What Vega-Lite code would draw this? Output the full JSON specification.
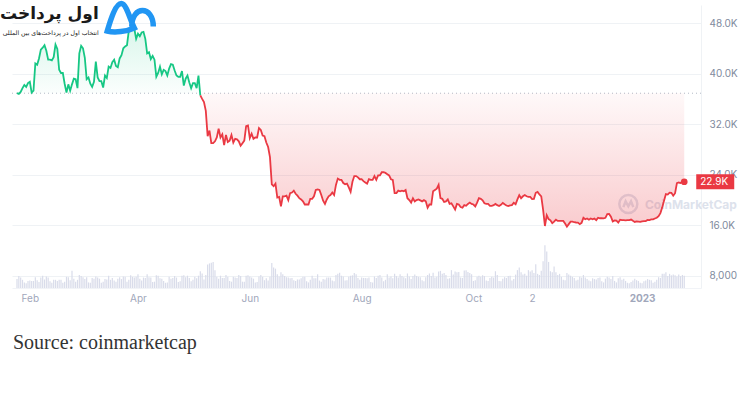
{
"$schema": "https://vega.github.io/schema/vega-lite/v6.json",
"width": 689, "height": 283,
"autosize": {"type": "none"},
"padding": {"left": 12, "top": 5, "right": 46, "bottom": 114},
"background": "white",
"config": {"view": {"stroke": null}, "font": "Inter"},
"title": {"text": "Source: coinmarketcap", "orient": "bottom", "anchor": "start", "frame": "group", "font": "Liberation Serif", "fontSize": 20, "fontWeight": "normal", "color": "#333333", "offset": 30, "dx": 1},
"datasets": {"btc": [
{"d":"2022-01-25","p":36900,"v":24},{"d":"2022-01-26","p":36800,"v":32},{"d":"2022-01-27","p":37100,"v":28},{"d":"2022-01-28","p":37700,"v":22},{"d":"2022-01-29","p":38200,"v":15},{"d":"2022-01-30","p":37900,"v":13},{"d":"2022-01-31","p":38500,"v":19},
{"d":"2022-02-01","p":38700,"v":20},{"d":"2022-02-02","p":37000,"v":19},{"d":"2022-02-03","p":37300,"v":19},{"d":"2022-02-04","p":41600,"v":29},{"d":"2022-02-05","p":41400,"v":21},{"d":"2022-02-06","p":42400,"v":16},{"d":"2022-02-07","p":43800,"v":28},{"d":"2022-02-08","p":44100,"v":33},{"d":"2022-02-09","p":44500,"v":23},{"d":"2022-02-10","p":43600,"v":31},{"d":"2022-02-11","p":42200,"v":28},{"d":"2022-02-12","p":42200,"v":18},{"d":"2022-02-13","p":42100,"v":14},{"d":"2022-02-14","p":42600,"v":22},{"d":"2022-02-15","p":44600,"v":22},{"d":"2022-02-16","p":43900,"v":19},{"d":"2022-02-17","p":40600,"v":22},{"d":"2022-02-18","p":40100,"v":22},{"d":"2022-02-19","p":40100,"v":14},{"d":"2022-02-20","p":38400,"v":17},{"d":"2022-02-21","p":37000,"v":30},{"d":"2022-02-22","p":38300,"v":29},{"d":"2022-02-23","p":37300,"v":21},{"d":"2022-02-24","p":38300,"v":46},{"d":"2022-02-25","p":39200,"v":25},{"d":"2022-02-26","p":39100,"v":17},{"d":"2022-02-27","p":37700,"v":22},{"d":"2022-02-28","p":43200,"v":35},
{"d":"2022-03-01","p":44400,"v":32},{"d":"2022-03-02","p":44000,"v":29},{"d":"2022-03-03","p":42500,"v":24},{"d":"2022-03-04","p":39100,"v":29},{"d":"2022-03-05","p":39400,"v":15},{"d":"2022-03-06","p":38400,"v":14},{"d":"2022-03-07","p":37900,"v":27},{"d":"2022-03-08","p":38700,"v":25},{"d":"2022-03-09","p":41900,"v":31},{"d":"2022-03-10","p":39400,"v":28},{"d":"2022-03-11","p":38800,"v":25},{"d":"2022-03-12","p":38800,"v":14},{"d":"2022-03-13","p":37800,"v":17},{"d":"2022-03-14","p":39700,"v":24},{"d":"2022-03-15","p":39300,"v":23},{"d":"2022-03-16","p":41100,"v":33},{"d":"2022-03-17","p":40900,"v":22},{"d":"2022-03-18","p":41800,"v":27},{"d":"2022-03-19","p":42200,"v":20},{"d":"2022-03-20","p":41200,"v":17},{"d":"2022-03-21","p":41000,"v":25},{"d":"2022-03-22","p":42400,"v":29},{"d":"2022-03-23","p":42900,"v":24},{"d":"2022-03-24","p":44000,"v":31},{"d":"2022-03-25","p":44300,"v":30},{"d":"2022-03-26","p":44500,"v":17},{"d":"2022-03-27","p":46800,"v":22},{"d":"2022-03-28","p":47100,"v":34},{"d":"2022-03-29","p":47500,"v":30},{"d":"2022-03-30","p":47100,"v":28},{"d":"2022-03-31","p":45500,"v":30},
{"d":"2022-04-01","p":46300,"v":37},{"d":"2022-04-02","p":45900,"v":25},{"d":"2022-04-03","p":46500,"v":20},{"d":"2022-04-04","p":46600,"v":28},{"d":"2022-04-05","p":45500,"v":27},{"d":"2022-04-06","p":43200,"v":37},{"d":"2022-04-07","p":43400,"v":29},{"d":"2022-04-08","p":42300,"v":28},{"d":"2022-04-09","p":42800,"v":16},{"d":"2022-04-10","p":42200,"v":17},{"d":"2022-04-11","p":39500,"v":34},{"d":"2022-04-12","p":40100,"v":33},{"d":"2022-04-13","p":41100,"v":26},{"d":"2022-04-14","p":39900,"v":25},{"d":"2022-04-15","p":40600,"v":19},{"d":"2022-04-16","p":40400,"v":14},{"d":"2022-04-17","p":39700,"v":15},{"d":"2022-04-18","p":40800,"v":30},{"d":"2022-04-19","p":41500,"v":25},{"d":"2022-04-20","p":41400,"v":27},{"d":"2022-04-21","p":40500,"v":32},{"d":"2022-04-22","p":39700,"v":28},{"d":"2022-04-23","p":39500,"v":16},{"d":"2022-04-24","p":39500,"v":18},{"d":"2022-04-25","p":40400,"v":33},{"d":"2022-04-26","p":38100,"v":34},{"d":"2022-04-27","p":39200,"v":29},{"d":"2022-04-28","p":39700,"v":33},{"d":"2022-04-29","p":38600,"v":27},{"d":"2022-04-30","p":37700,"v":18},
{"d":"2022-05-01","p":38500,"v":22},{"d":"2022-05-02","p":38500,"v":30},{"d":"2022-05-03","p":37700,"v":26},{"d":"2022-05-04","p":39700,"v":33},{"d":"2022-05-05","p":36550,"v":45},{"d":"2022-05-06","p":36000,"v":39},{"d":"2022-05-07","p":35500,"v":23},{"d":"2022-05-08","p":34100,"v":35},{"d":"2022-05-09","p":30100,"v":63},{"d":"2022-05-10","p":31000,"v":66},{"d":"2022-05-11","p":29000,"v":68},{"d":"2022-05-12","p":29000,"v":70},{"d":"2022-05-13","p":29300,"v":48},{"d":"2022-05-14","p":29900,"v":30},{"d":"2022-05-15","p":31300,"v":25},{"d":"2022-05-16","p":29900,"v":33},{"d":"2022-05-17","p":30400,"v":27},{"d":"2022-05-18","p":28700,"v":27},{"d":"2022-05-19","p":30300,"v":35},{"d":"2022-05-20","p":29200,"v":30},{"d":"2022-05-21","p":29400,"v":19},{"d":"2022-05-22","p":30300,"v":17},{"d":"2022-05-23","p":29100,"v":30},{"d":"2022-05-24","p":29700,"v":28},{"d":"2022-05-25","p":29600,"v":27},{"d":"2022-05-26","p":29300,"v":35},{"d":"2022-05-27","p":28600,"v":32},{"d":"2022-05-28","p":29000,"v":17},{"d":"2022-05-29","p":29400,"v":17},{"d":"2022-05-30","p":31700,"v":33},{"d":"2022-05-31","p":31800,"v":34},
{"d":"2022-06-01","p":29800,"v":31},{"d":"2022-06-02","p":30500,"v":28},{"d":"2022-06-03","p":29700,"v":25},{"d":"2022-06-04","p":29900,"v":15},{"d":"2022-06-05","p":29900,"v":16},{"d":"2022-06-06","p":31400,"v":31},{"d":"2022-06-07","p":31100,"v":35},{"d":"2022-06-08","p":30200,"v":30},{"d":"2022-06-09","p":30100,"v":21},{"d":"2022-06-10","p":29100,"v":26},{"d":"2022-06-11","p":28400,"v":20},{"d":"2022-06-12","p":26800,"v":30},{"d":"2022-06-13","p":22500,"v":67},{"d":"2022-06-14","p":22200,"v":55},{"d":"2022-06-15","p":22600,"v":52},{"d":"2022-06-16","p":20400,"v":37},{"d":"2022-06-17","p":20500,"v":31},{"d":"2022-06-18","p":19000,"v":42},{"d":"2022-06-19","p":20600,"v":37},{"d":"2022-06-20","p":20600,"v":32},{"d":"2022-06-21","p":20700,"v":29},{"d":"2022-06-22","p":20000,"v":28},{"d":"2022-06-23","p":21100,"v":26},{"d":"2022-06-24","p":21200,"v":27},{"d":"2022-06-25","p":21500,"v":21},{"d":"2022-06-26","p":21000,"v":19},{"d":"2022-06-27","p":20700,"v":23},{"d":"2022-06-28","p":20300,"v":23},{"d":"2022-06-29","p":20100,"v":26},{"d":"2022-06-30","p":19800,"v":30},
{"d":"2022-07-01","p":19300,"v":30},{"d":"2022-07-02","p":19300,"v":18},{"d":"2022-07-03","p":19300,"v":15},{"d":"2022-07-04","p":20200,"v":22},{"d":"2022-07-05","p":20200,"v":33},{"d":"2022-07-06","p":20600,"v":26},{"d":"2022-07-07","p":21600,"v":26},{"d":"2022-07-08","p":21700,"v":37},{"d":"2022-07-09","p":21600,"v":20},{"d":"2022-07-10","p":20800,"v":17},{"d":"2022-07-11","p":19900,"v":24},{"d":"2022-07-12","p":19400,"v":23},{"d":"2022-07-13","p":20100,"v":28},{"d":"2022-07-14","p":20600,"v":28},{"d":"2022-07-15","p":20800,"v":28},{"d":"2022-07-16","p":21200,"v":20},{"d":"2022-07-17","p":20800,"v":18},{"d":"2022-07-18","p":22400,"v":35},{"d":"2022-07-19","p":23400,"v":38},{"d":"2022-07-20","p":23200,"v":41},{"d":"2022-07-21","p":23200,"v":33},{"d":"2022-07-22","p":22700,"v":31},{"d":"2022-07-23","p":22500,"v":20},{"d":"2022-07-24","p":22600,"v":21},{"d":"2022-07-25","p":22000,"v":30},{"d":"2022-07-26","p":21300,"v":33},{"d":"2022-07-27","p":22900,"v":34},{"d":"2022-07-28","p":23800,"v":40},{"d":"2022-07-29","p":23800,"v":37},{"d":"2022-07-30","p":23600,"v":27},{"d":"2022-07-31","p":23300,"v":22},
{"d":"2022-08-01","p":23300,"v":28},{"d":"2022-08-02","p":23000,"v":27},{"d":"2022-08-03","p":22800,"v":27},{"d":"2022-08-04","p":22600,"v":26},{"d":"2022-08-05","p":23300,"v":28},{"d":"2022-08-06","p":23200,"v":16},{"d":"2022-08-07","p":23200,"v":15},{"d":"2022-08-08","p":23800,"v":31},{"d":"2022-08-09","p":23200,"v":27},{"d":"2022-08-10","p":23900,"v":33},{"d":"2022-08-11","p":23900,"v":35},{"d":"2022-08-12","p":24400,"v":28},{"d":"2022-08-13","p":24400,"v":18},{"d":"2022-08-14","p":24300,"v":22},{"d":"2022-08-15","p":24100,"v":37},{"d":"2022-08-16","p":23900,"v":28},{"d":"2022-08-17","p":23300,"v":31},{"d":"2022-08-18","p":23200,"v":26},{"d":"2022-08-19","p":21100,"v":38},{"d":"2022-08-20","p":21100,"v":32},{"d":"2022-08-21","p":21500,"v":28},{"d":"2022-08-22","p":21400,"v":37},{"d":"2022-08-23","p":21500,"v":32},{"d":"2022-08-24","p":21400,"v":29},{"d":"2022-08-25","p":21600,"v":26},{"d":"2022-08-26","p":20300,"v":39},{"d":"2022-08-27","p":20000,"v":31},{"d":"2022-08-28","p":19600,"v":24},{"d":"2022-08-29","p":20300,"v":32},{"d":"2022-08-30","p":19800,"v":36},{"d":"2022-08-31","p":20000,"v":32},
{"d":"2022-09-01","p":20100,"v":30},{"d":"2022-09-02","p":19950,"v":29},{"d":"2022-09-03","p":19800,"v":21},{"d":"2022-09-04","p":19990,"v":18},{"d":"2022-09-05","p":19800,"v":29},{"d":"2022-09-06","p":18800,"v":35},{"d":"2022-09-07","p":19300,"v":39},{"d":"2022-09-08","p":19300,"v":32},{"d":"2022-09-09","p":21400,"v":41},{"d":"2022-09-10","p":21600,"v":28},{"d":"2022-09-11","p":21800,"v":30},{"d":"2022-09-12","p":22400,"v":44},{"d":"2022-09-13","p":20300,"v":46},{"d":"2022-09-14","p":20200,"v":38},{"d":"2022-09-15","p":19700,"v":40},{"d":"2022-09-16","p":19800,"v":35},{"d":"2022-09-17","p":20100,"v":25},{"d":"2022-09-18","p":19400,"v":26},{"d":"2022-09-19","p":19500,"v":48},{"d":"2022-09-20","p":19000,"v":36},{"d":"2022-09-21","p":18500,"v":44},{"d":"2022-09-22","p":19400,"v":42},{"d":"2022-09-23","p":19300,"v":43},{"d":"2022-09-24","p":18900,"v":28},{"d":"2022-09-25","p":18800,"v":27},{"d":"2022-09-26","p":19200,"v":47},{"d":"2022-09-27","p":19100,"v":48},{"d":"2022-09-28","p":19400,"v":43},{"d":"2022-09-29","p":19600,"v":40},{"d":"2022-09-30","p":19400,"v":37},
{"d":"2022-10-01","p":19300,"v":19},{"d":"2022-10-02","p":19000,"v":21},{"d":"2022-10-03","p":19600,"v":30},{"d":"2022-10-04","p":20300,"v":33},{"d":"2022-10-05","p":20200,"v":30},{"d":"2022-10-06","p":19960,"v":34},{"d":"2022-10-07","p":19500,"v":32},{"d":"2022-10-08","p":19400,"v":20},{"d":"2022-10-09","p":19400,"v":19},{"d":"2022-10-10","p":19100,"v":27},{"d":"2022-10-11","p":19100,"v":30},{"d":"2022-10-12","p":19200,"v":28},{"d":"2022-10-13","p":19400,"v":45},{"d":"2022-10-14","p":19200,"v":35},{"d":"2022-10-15","p":19070,"v":19},{"d":"2022-10-16","p":19260,"v":18},{"d":"2022-10-17","p":19550,"v":25},{"d":"2022-10-18","p":19330,"v":29},{"d":"2022-10-19","p":19140,"v":27},{"d":"2022-10-20","p":19050,"v":32},{"d":"2022-10-21","p":19170,"v":33},{"d":"2022-10-22","p":19200,"v":20},{"d":"2022-10-23","p":19570,"v":24},{"d":"2022-10-24","p":19350,"v":36},{"d":"2022-10-25","p":20100,"v":48},{"d":"2022-10-26","p":20770,"v":55},{"d":"2022-10-27","p":20300,"v":42},{"d":"2022-10-28","p":20600,"v":36},{"d":"2022-10-29","p":20800,"v":38},{"d":"2022-10-30","p":20600,"v":33},{"d":"2022-10-31","p":20500,"v":48},
{"d":"2022-11-01","p":20500,"v":44},{"d":"2022-11-02","p":20160,"v":48},{"d":"2022-11-03","p":20200,"v":40},{"d":"2022-11-04","p":21150,"v":64},{"d":"2022-11-05","p":21300,"v":38},{"d":"2022-11-06","p":20900,"v":35},{"d":"2022-11-07","p":20600,"v":46},{"d":"2022-11-08","p":18500,"v":72},{"d":"2022-11-09","p":15900,"v":115},{"d":"2022-11-10","p":17600,"v":98},{"d":"2022-11-11","p":17000,"v":70},{"d":"2022-11-12","p":16800,"v":45},{"d":"2022-11-13","p":16350,"v":42},{"d":"2022-11-14","p":16600,"v":58},{"d":"2022-11-15","p":16900,"v":42},{"d":"2022-11-16","p":16700,"v":35},{"d":"2022-11-17","p":16700,"v":38},{"d":"2022-11-18","p":16700,"v":30},{"d":"2022-11-19","p":16700,"v":22},{"d":"2022-11-20","p":16300,"v":21},{"d":"2022-11-21","p":15800,"v":40},{"d":"2022-11-22","p":16200,"v":36},{"d":"2022-11-23","p":16600,"v":33},{"d":"2022-11-24","p":16600,"v":30},{"d":"2022-11-25","p":16500,"v":27},{"d":"2022-11-26","p":16460,"v":20},{"d":"2022-11-27","p":16440,"v":22},{"d":"2022-11-28","p":16200,"v":30},{"d":"2022-11-29","p":16400,"v":28},{"d":"2022-11-30","p":17200,"v":35},
{"d":"2022-12-01","p":16970,"v":28},{"d":"2022-12-02","p":17090,"v":24},{"d":"2022-12-03","p":16890,"v":20},{"d":"2022-12-04","p":17100,"v":18},{"d":"2022-12-05","p":16970,"v":26},{"d":"2022-12-06","p":17090,"v":24},{"d":"2022-12-07","p":16840,"v":23},{"d":"2022-12-08","p":17220,"v":27},{"d":"2022-12-09","p":17130,"v":28},{"d":"2022-12-10","p":17130,"v":18},{"d":"2022-12-11","p":17100,"v":15},{"d":"2022-12-12","p":17200,"v":25},{"d":"2022-12-13","p":17780,"v":30},{"d":"2022-12-14","p":17800,"v":28},{"d":"2022-12-15","p":17360,"v":24},{"d":"2022-12-16","p":16630,"v":32},{"d":"2022-12-17","p":16780,"v":19},{"d":"2022-12-18","p":16740,"v":15},{"d":"2022-12-19","p":16440,"v":26},{"d":"2022-12-20","p":16900,"v":29},{"d":"2022-12-21","p":16830,"v":22},{"d":"2022-12-22","p":16830,"v":25},{"d":"2022-12-23","p":16780,"v":19},{"d":"2022-12-24","p":16840,"v":14},{"d":"2022-12-25","p":16840,"v":13},{"d":"2022-12-26","p":16920,"v":16},{"d":"2022-12-27","p":16720,"v":20},{"d":"2022-12-28","p":16550,"v":25},{"d":"2022-12-29","p":16640,"v":21},{"d":"2022-12-30","p":16600,"v":19},{"d":"2022-12-31","p":16550,"v":14},
{"d":"2023-01-01","p":16630,"v":13},{"d":"2023-01-02","p":16690,"v":18},{"d":"2023-01-03","p":16680,"v":20},{"d":"2023-01-04","p":16850,"v":24},{"d":"2023-01-05","p":16830,"v":22},{"d":"2023-01-06","p":16950,"v":21},{"d":"2023-01-07","p":16950,"v":14},{"d":"2023-01-08","p":17090,"v":17},{"d":"2023-01-09","p":17200,"v":22},{"d":"2023-01-10","p":17450,"v":29},{"d":"2023-01-11","p":17940,"v":27},{"d":"2023-01-12","p":18850,"v":38},{"d":"2023-01-13","p":19930,"v":38},{"d":"2023-01-14","p":20950,"v":42},{"d":"2023-01-15","p":20870,"v":32},{"d":"2023-01-16","p":21170,"v":38},{"d":"2023-01-17","p":21160,"v":34},{"d":"2023-01-18","p":20690,"v":36},{"d":"2023-01-19","p":21090,"v":34},{"d":"2023-01-20","p":22680,"v":31},{"d":"2023-01-21","p":22780,"v":36},{"d":"2023-01-22","p":22700,"v":32},{"d":"2023-01-23","p":22930,"v":35},{"d":"2023-01-24","p":22900,"v":33}
]},
"data": {"name": "btc"},
"resolve": {"scale": {"y": "independent"}},
"layer": [
{"mark": {"type": "bar", "width": 1.2, "color": "#d9dcea"},
 "encoding": {
  "x": {"field": "d", "type": "temporal",
   "scale": {"type": "utc", "domain": [{"year": 2022, "month": 1, "date": 25, "utc": true}, {"year": 2023, "month": 1, "date": 30, "hours": 10, "utc": true}]},
   "axis": {"title": null, "orient": "bottom", "domain": true, "domainColor": "#f1f3f7", "ticks": false, "grid": false, "labelPadding": 5, "labelFont": "Inter", "labelFontSize": 10, "labelColor": "#a1a7bb",
    "values": [{"year": 2022, "month": 2, "date": 1, "utc": true}, {"year": 2022, "month": 4, "date": 1, "utc": true}, {"year": 2022, "month": 6, "date": 1, "utc": true}, {"year": 2022, "month": 8, "date": 1, "utc": true}, {"year": 2022, "month": 10, "date": 1, "utc": true}, {"year": 2022, "month": 11, "date": 2, "utc": true}, {"year": 2023, "month": 1, "date": 1, "utc": true}],
    "labelExpr": "utcmonth(datum.value) == 10 ? '2' : (utcmonth(datum.value) == 0 ? '2023' : utcFormat(datum.value, '%b'))",
    "labelFontWeight": {"condition": {"test": "utcmonth(datum.value) == 0", "value": "bold"}, "value": "normal"},
    "labelOverlap": false}},
  "y": {"field": "v", "type": "quantitative", "scale": {"domain": [0, 760]}, "axis": null}
 }},
{"layer": [
 {"data": {"values": [{}]},
  "mark": {"type": "text", "text": "CoinMarketCap", "font": "Inter", "fontSize": 12, "fontWeight": "bold", "color": "#dde2ec", "align": "left", "baseline": "middle"},
  "encoding": {"x": {"datum": {"year": 2023, "month": 1, "date": 2, "hours": 14, "utc": true}, "type": "temporal"}, "y": {"datum": 19225, "type": "quantitative"}}},
 {"data": {"values": [{}]},
  "mark": {"type": "point", "shape": "M-1,0 A1,1 0 1,0 1,0 A1,1 0 1,0 -1,0 Z M-0.55,0.35 L-0.3,-0.3 L0,0.25 L0.3,-0.3 L0.55,0.35", "size": 324, "filled": false, "stroke": "#dde2ec", "strokeWidth": 2.5, "opacity": 1},
  "encoding": {"x": {"datum": {"year": 2022, "month": 12, "date": 24, "hours": 12, "utc": true}, "type": "temporal"}, "y": {"datum": 19383, "type": "quantitative"}}},
 {"data": {"values": [{}]},
  "mark": {"type": "rule", "strokeDash": [1, 3], "color": "#b3bac7", "strokeWidth": 1},
  "encoding": {"y": {"datum": 36900, "type": "quantitative"}}},
 {"transform": [{"filter": "time(datum.d) <= utc(2022, 4, 5)"}],
  "mark": {"type": "area", "fill": {"gradient": "linear", "x1": 0, "y1": 0, "x2": 0, "y2": 1, "stops": [{"offset": 0, "color": "rgba(22,199,132,0.16)"}, {"offset": 1, "color": "rgba(22,199,132,0.01)"}]}},
  "encoding": {
   "x": {"field": "d", "type": "temporal"},
   "y": {"field": "p", "type": "quantitative", "scale": {"domain": [6100, 50850], "nice": false, "zero": false},
    "axis": {"title": null, "orient": "right", "grid": true, "gridColor": "#eff2f5", "domain": true, "domainColor": "#eff2f5", "ticks": false, "labelPadding": 8, "labelFont": "Inter", "labelFontSize": 10, "labelColor": "#808a9d",
     "values": [8000, 12000, 16000, 20000, 24000, 28000, 32000, 36000, 40000, 44000, 48000],
     "labelExpr": "datum.value >= 10000 ? format(datum.value / 1000, '.1f') + 'K' : format(datum.value, ',')"}},
   "y2": {"datum": 36900}
  }},
 {"transform": [{"filter": "time(datum.d) >= utc(2022, 4, 5)"}],
  "mark": {"type": "area", "fill": {"gradient": "linear", "x1": 0, "y1": 0, "x2": 0, "y2": 1, "stops": [{"offset": 0, "color": "rgba(234,57,67,0.03)"}, {"offset": 1, "color": "rgba(234,57,67,0.26)"}]}},
  "encoding": {"x": {"field": "d", "type": "temporal"}, "y": {"field": "p", "type": "quantitative", "scale": {"domain": [6100, 50850], "nice": false, "zero": false}}, "y2": {"datum": 36900}}},
 {"transform": [{"filter": "time(datum.d) <= utc(2022, 4, 5)"}],
  "mark": {"type": "line", "color": "#16c784", "strokeWidth": 1.8},
  "encoding": {"x": {"field": "d", "type": "temporal"}, "y": {"field": "p", "type": "quantitative"}}},
 {"transform": [{"filter": "time(datum.d) >= utc(2022, 4, 5)"}],
  "mark": {"type": "line", "color": "#ea3943", "strokeWidth": 1.8},
  "encoding": {"x": {"field": "d", "type": "temporal"}, "y": {"field": "p", "type": "quantitative"}}},
 {"data": {"values": [{}]},
  "mark": {"type": "point", "filled": true, "color": "#ea3943", "size": 45, "opacity": 1},
  "encoding": {"x": {"datum": {"year": 2023, "month": 1, "date": 24, "utc": true}, "type": "temporal"}, "y": {"datum": 22900, "type": "quantitative"}}},
 {"data": {"values": [{}]},
  "mark": {"type": "rect", "color": "#ea3943", "xOffset": 12, "x2Offset": 50, "yOffset": -7.5, "y2Offset": 7.5},
  "encoding": {"x": {"datum": {"year": 2023, "month": 1, "date": 24, "utc": true}, "type": "temporal"}, "x2": {"datum": {"year": 2023, "month": 1, "date": 24, "utc": true}}, "y": {"datum": 22900, "type": "quantitative"}, "y2": {"datum": 22900}}},
 {"data": {"values": [{}]},
  "mark": {"type": "text", "text": "22.9K", "font": "Inter", "fontSize": 10, "color": "white", "align": "left", "baseline": "middle", "dx": 16},
  "encoding": {"x": {"datum": {"year": 2023, "month": 1, "date": 24, "utc": true}, "type": "temporal"}, "y": {"datum": 22900, "type": "quantitative"}}},
 {"data": {"values": [{}]},
  "mark": {"type": "text", "text": "اول پرداخت", "font": "DejaVu Sans", "fontSize": 17, "fontWeight": "bold", "color": "#1a1a1a", "align": "right", "baseline": "middle"},
  "encoding": {"x": {"datum": {"year": 2022, "month": 3, "date": 10, "hours": 14, "utc": true}, "type": "temporal"}, "y": {"datum": 49423, "type": "quantitative"}}},
 {"data": {"values": [{}]},
  "mark": {"type": "text", "text": "انتخاب اول در پرداخت\u200cهای بین المللی", "font": "DejaVu Sans", "fontSize": 6.2, "color": "#222222", "align": "right", "baseline": "middle"},
  "encoding": {"x": {"datum": {"year": 2022, "month": 3, "date": 10, "hours": 14, "utc": true}, "type": "temporal"}, "y": {"datum": 46419, "type": "quantitative"}}},
 {"data": {"values": [{}]},
  "mark": {"type": "point", "shape": "M-0.84,0.48 C-0.7,0.0 -0.5,-0.62 -0.28,-0.62 C-0.08,-0.62 0.08,0.05 0.24,0.36 C-0.05,0.5 -0.55,0.56 -0.84,0.48 Z M0.14,0.3 C0.14,-0.55 1.0,-0.55 1.0,0.3", "size": 2500, "filled": false, "stroke": "#2196f3", "strokeWidth": 5.5, "opacity": 1},
  "encoding": {"x": {"datum": {"year": 2022, "month": 3, "date": 26, "hours": 17, "utc": true}, "type": "temporal"}, "y": {"datum": 48632, "type": "quantitative"}}}
]}
]
}
